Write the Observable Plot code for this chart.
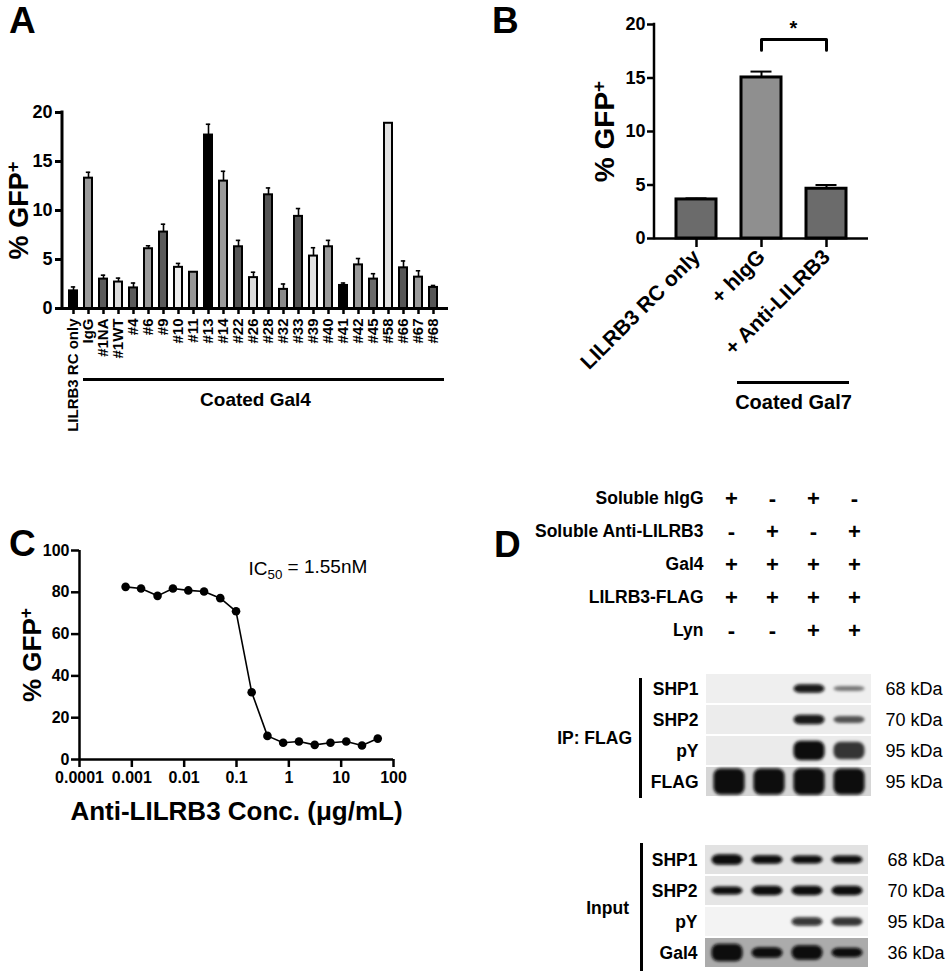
<!DOCTYPE html>
<html>
<head>
<meta charset="utf-8">
<script src="https://cdn.jsdelivr.net/npm/d3@7"></script>
<script src="https://cdn.jsdelivr.net/npm/@observablehq/plot@0.6"></script>
<style>
  body { margin: 0; background: #fff; }
  #fig { position: relative; width: 950px; height: 975px; overflow: hidden;
         font-family: "Liberation Sans", Arial, Helvetica, sans-serif; color: #000; }
  .pos { position: absolute; }
  .letter { position: absolute; font-weight: bold; font-size: 37px; line-height: normal; }
  .bracket { position: absolute; background: #000; width: 3px; }
  .blockLabel { position: absolute; font-weight: bold; font-size: 17.5px; line-height: 20px; text-align: right; white-space: nowrap; }
</style>
</head>
<body>
<div id="fig"></div>
<script>
// ---------------- DATA ----------------
// Panel A
const aCategories = ["LILRB3 RC only","IgG","#1NA","#1WT","#4","#6","#9","#10","#11","#13","#14","#22","#26","#28","#32","#33","#39","#40","#41","#42","#45","#58","#66","#67","#68"];
const aMeans = [1.8,13.3,3.0,2.7,2.1,6.1,7.8,4.2,3.7,17.7,13.0,6.3,3.15,11.6,1.95,9.4,5.35,6.3,2.35,4.45,3.0,18.9,4.15,3.2,2.15];
const aSEM   = [0.4,0.6,0.4,0.4,0.5,0.3,0.8,0.4,0,1.1,1.0,0.65,0.55,0.7,0.55,0.8,0.85,0.65,0.25,0.65,0.55,0,0.7,0.65,0.2];
const aGroupLabel = "Coated Gal4";
const aGroupMembers = aCategories.slice(1);

// Panel B
const bCategories = ["LILRB3 RC only", "+ hIgG", "+ Anti-LILRB3"];
const bMeans = [3.65, 15.05, 4.65];
const bSEM = [0.1, 0.55, 0.35];
const bGroupLabel = "Coated Gal7";
const bGroupMembers = ["+ hIgG", "+ Anti-LILRB3"];
const bComparison = {from: "+ hIgG", to: "+ Anti-LILRB3", label: "*"};

// Panel C
const cConc = [0.00076,0.0015,0.0031,0.0061,0.012,0.024,0.049,0.098,0.195,0.39,0.78,1.56,3.125,6.25,12.5,25,50];
const cGFP  = [82.6,81.8,78.3,81.8,80.9,80.4,77.2,70.9,32.2,11.3,8.0,8.6,7.0,8.0,8.6,6.7,10.0];
const cTicks = [0.0001,0.001,0.01,0.1,1,10,100];
const cXLabel = "Anti-LILRB3 Conc. (μg/mL)";
const cIC50 = "1.55nM";

// Panel D
const lanes = [1,2,3,4];
const conditions = ["Soluble hIgG","Soluble Anti-LILRB3","Gal4","LILRB3-FLAG","Lyn"];
const signs = [["+","-","+","-"],["-","+","-","+"],["+","+","+","+"],["+","+","+","+"],["-","-","+","+"]];
const ipRows = ["SHP1","SHP2","pY","FLAG"];
const ipKDa = ["68 kDa","70 kDa","95 kDa","95 kDa"];
const ipIntensity = [[0,0,0.95,0.5],[0,0,0.95,0.65],[0,0,1,0.78],[1,1,1,1]];
const ipSpread    = [[0,0,0.3,0.17],[0,0,0.33,0.24],[0,0,0.68,0.6],[0.9,0.9,0.92,0.9]];
const inRows = ["SHP1","SHP2","pY","Gal4"];
const inKDa = ["68 kDa","70 kDa","95 kDa","36 kDa"];
const inIntensity = [[1,1,1,1],[1,1,1,1],[0,0,0.82,0.78],[1,1,1,1]];
const inSpread    = [[0.36,0.3,0.28,0.28],[0.28,0.32,0.32,0.32],[0,0,0.3,0.3],[0.6,0.36,0.5,0.32]];

// ---------------- HELPERS ----------------
const FONT = '"Liberation Sans", Arial, Helvetica, sans-serif';
const fig = document.getElementById("fig");
function place(node, left, top, w, h) {
  const div = document.createElement("div");
  div.className = "pos";
  div.style.left = left + "px"; div.style.top = top + "px";
  div.style.width = w + "px"; div.style.height = h + "px";
  div.appendChild(node);
  fig.appendChild(div);
}
function addHTML(cls, html, css) {
  const d = document.createElement("div");
  d.className = cls; d.innerHTML = html;
  Object.assign(d.style, css);
  fig.appendChild(d);
}
const leftAxisLine = (sw) => (index, scales, values, dims) => {
  const l = document.createElementNS("http://www.w3.org/2000/svg", "line");
  const x = dims.marginLeft;
  l.setAttribute("x1", x); l.setAttribute("x2", x);
  l.setAttribute("y1", dims.marginTop - sw / 2);
  l.setAttribute("y2", dims.height - dims.marginBottom + sw / 2);
  l.setAttribute("stroke", "black"); l.setAttribute("stroke-width", sw);
  return l;
};
function gfpLabel(svg, size) {
  d3.select(svg).selectAll("text").each(function () {
    if (this.textContent.replace(/[↑→]/g, "").trim() === "% GFP+") {
      const t = d3.select(this);
      t.selectAll("*").remove();
      t.text("% GFP").attr("font-size", size).attr("font-weight", "bold");
      t.append("tspan").attr("dy", "-0.5em").attr("font-size", "0.68em").text("+");
    }
  });
}
const baseStyle = {fontFamily: FONT, fontWeight: "bold", background: "transparent", overflow: "visible", color: "black"};

// ---------------- PANEL A ----------------
const aBarColors = ["#000","#9a9a9a","#5a5a5a","#dcdcdc","#5a5a5a","#9a9a9a","#5a5a5a","#ececec","#969696","#000","#9a9a9a","#555","#dcdcdc","#555","#8a8a8a","#555","#e2e2e2","#9a9a9a","#000","#9a9a9a","#6a6a6a","#e2e2e2","#555","#9a9a9a","#555"];
const aData = aCategories.map((cat, i) => ({cat, mean: aMeans[i], sem: aSEM[i]}));
const aErr = aData.filter(d => d.sem > 0);
const plotA = Plot.plot({
  width: 470, height: 430, marginLeft: 62, marginRight: 22, marginTop: 112, marginBottom: 122,
  style: baseStyle,
  x: {domain: aCategories, range: [62, 444.7], paddingInner: 0.44, paddingOuter: 0.31},
  y: {domain: [0, 20]},
  color: {domain: aCategories, range: aBarColors},
  marks: [
    Plot.ruleX(aErr, {x: "cat", y1: "mean", y2: d => d.mean + d.sem, strokeWidth: 1.6}),
    Plot.barY(aData, {x: "cat", y: "mean", fill: "cat", stroke: "black", strokeWidth: 2}),
    Plot.tickY(aErr, {x: "cat", y: d => d.mean + d.sem, strokeWidth: 1.6, insetLeft: 1.8, insetRight: 1.8}),
    Plot.ruleY([0], {strokeWidth: 3}),
    leftAxisLine(3),
    Plot.axisY({ticks: [0, 5, 10, 15, 20], tickSize: 7, tickPadding: 3, fontSize: 18, strokeWidth: 3,
                label: "% GFP+", labelAnchor: "center", labelOffset: 54}),
    Plot.axisX({tickSize: 6, tickPadding: 4, tickRotate: -90, fontSize: 15, strokeWidth: 2.5, label: null}),
    Plot.ruleY([0], {x1: () => aGroupMembers[0], x2: () => aGroupMembers[aGroupMembers.length - 1],
                     dy: 71, strokeWidth: 3, insetLeft: -1, insetRight: -7}),
    Plot.text([aGroupLabel], {x: () => "#26", y: () => 0, text: d => d, dy: 91, dx: 2, fontSize: 19, lineAnchor: "middle"})
  ]
});
gfpLabel(plotA, 27);
place(plotA, 0, 0, 470, 430);

// ---------------- PANEL B ----------------
const bData = bCategories.map((cat, i) => ({cat, mean: bMeans[i], sem: bSEM[i]}));
const bBracket = [
  {x: bComparison.from, y: 17.6}, {x: bComparison.from, y: 18.6},
  {x: bComparison.to, y: 18.6}, {x: bComparison.to, y: 17.6}
];
const plotB = Plot.plot({
  width: 470, height: 430, marginLeft: 174, marginRight: 82, marginTop: 24, marginBottom: 192,
  style: baseStyle,
  x: {domain: bCategories, paddingInner: 0.39, paddingOuter: 0.34},
  y: {domain: [0, 20]},
  color: {domain: bCategories, range: ["#6b6b6b", "#8f8f8f", "#6b6b6b"]},
  marks: [
    Plot.ruleX(bData, {x: "cat", y1: "mean", y2: d => d.mean + d.sem, strokeWidth: 2}),
    Plot.barY(bData, {x: "cat", y: "mean", fill: "cat", stroke: "black", strokeWidth: 3}),
    Plot.tickY(bData, {x: "cat", y: d => d.mean + d.sem, strokeWidth: 2, insetLeft: 9.5, insetRight: 9.5}),
    Plot.ruleY([0], {strokeWidth: 2.5}),
    leftAxisLine(2.5),
    Plot.axisY({ticks: [0, 5, 10, 15, 20], tickSize: 7, tickPadding: 2, fontSize: 18, strokeWidth: 2.5,
                label: "% GFP+", labelAnchor: "center", labelOffset: 60}),
    Plot.axisX({tickSize: 9, tickPadding: 6, tickRotate: -45, fontSize: 21, strokeWidth: 2.5, label: null}),
    Plot.line(bBracket, {x: "x", y: "y", strokeWidth: 3}),
    Plot.text([bComparison], {x: "from", y: () => 20, text: "label", dx: 32, dy: 4, fontSize: 20}),
    Plot.ruleY([0], {x1: () => bGroupMembers[0], x2: () => bGroupMembers[bGroupMembers.length - 1],
                     dy: 144, strokeWidth: 3, insetLeft: -4, insetRight: -3}),
    Plot.text([bGroupLabel], {x: () => bGroupMembers[0], y: () => 0, text: d => d, dx: 32, dy: 164, fontSize: 20, lineAnchor: "middle"})
  ]
});
gfpLabel(plotB, 28);
place(plotB, 480, 0, 470, 430);

// ---------------- PANEL C ----------------
const cData = cConc.map((conc, i) => ({conc, gfp: cGFP[i]}));
const icText = "IC50 = " + cIC50;
const plotC = Plot.plot({
  width: 480, height: 320, marginLeft: 79, marginRight: 87, marginTop: 30, marginBottom: 81,
  style: baseStyle,
  x: {type: "log", domain: [0.0001, 100]},
  y: {domain: [0, 100]},
  marks: [
    Plot.ruleY([0], {strokeWidth: 2.5}),
    Plot.ruleX([0.0001], {strokeWidth: 2.5}),
    Plot.axisY({ticks: [0, 20, 40, 60, 80, 100], tickSize: 8, tickPadding: 2, fontSize: 16, strokeWidth: 2.5,
                label: "% GFP+", labelAnchor: "center", labelOffset: 57}),
    Plot.axisX({ticks: cTicks, tickFormat: d => String(d), tickSize: 8, tickPadding: 4, fontSize: 16, strokeWidth: 2.5,
                label: cXLabel, labelAnchor: "center", labelOffset: 60}),
    Plot.line(cData, {x: "conc", y: "gfp", strokeWidth: 1.6}),
    Plot.dot(cData, {x: "conc", y: "gfp", r: 4.3, fill: "black"}),
    Plot.text([icText], {frameAnchor: "top-left", text: d => d, dx: 169, dy: 18, textAnchor: "start",
                         lineAnchor: "middle", fontSize: 19, fontWeight: "normal"})
  ]
});
gfpLabel(plotC, 26);
d3.select(plotC).selectAll("text").each(function () {
  const t = d3.select(this);
  if (this.textContent === icText) {
    t.text("IC");
    t.append("tspan").attr("dy", "0.35em").attr("font-size", "0.7em").text("50");
    t.append("tspan").attr("dy", "-0.35em").text(" = " + cIC50);
  } else if (this.textContent.indexOf(cXLabel) >= 0) {
    t.selectAll("*").remove();
    t.text(cXLabel).attr("font-size", 26).attr("font-weight", "bold");
  }
});
place(plotC, 0, 520, 480, 320);

// ---------------- PANEL D ----------------
const tableData = conditions.flatMap((condition, r) => lanes.map((lane, j) => ({condition, lane, sign: signs[r][j]})));
const plotTable = Plot.plot({
  width: 440, height: 145, marginLeft: 200, marginRight: 75, marginTop: 7.75, marginBottom: 4.75,
  style: baseStyle,
  x: {domain: lanes, paddingInner: 0.15, paddingOuter: 0.1, axis: null},
  y: {domain: conditions, padding: 0},
  marks: [
    Plot.text(tableData, {x: "lane", y: "condition", text: "sign", fontSize: 22, lineAnchor: "middle"}),
    Plot.axisY({tickSize: 0, tickPadding: 7, fontSize: 17.5, label: null})
  ]
});
place(plotTable, 510, 490, 440, 145);

function blot(rows, kda, intensity, spread, bgColors, opts) {
  const strips = rows.map((row, r) => ({row, kda: kda[r], bg: bgColors[r]}));
  const bands = rows.flatMap((row, r) => lanes.map((lane, j) => ({row, lane, intensity: intensity[r][j], spread: spread[r][j]})))
                    .filter(d => d.intensity > 0);
  const svg = Plot.plot({
    width: opts.width, height: opts.height,
    marginLeft: opts.marginLeft, marginRight: opts.marginRight, marginTop: opts.marginTop, marginBottom: opts.marginBottom,
    style: baseStyle,
    x: {domain: lanes, paddingInner: 0.15, paddingOuter: 0.1, axis: null},
    y: {domain: [-0.5, 0.5], axis: null},
    fy: {domain: rows, padding: 0.07},
    marks: [
      Plot.rect(strips, {fy: "row", fill: "bg"}),
      Plot.barY(bands, {fy: "row", x: "lane", y1: d => -d.spread / 2, y2: d => d.spread / 2,
                        fill: "#080808", fillOpacity: "intensity", rx: 7, insetLeft: 1.5, insetRight: 1.5}),
      Plot.axisFy({anchor: "left", tickSize: 0, tickPadding: 8, fontSize: 17.5, label: null}),
      Plot.text(strips, {fy: "row", text: "kda", frameAnchor: "right", textAnchor: "start", dx: opts.kdaDx,
                         fontSize: 18, fontWeight: "normal", lineAnchor: "middle"})
    ]
  });
  const root = d3.select(svg);
  const defs = root.insert("defs", ":first-child");
  defs.append("filter").attr("id", opts.id)
      .attr("x", "-10%").attr("y", "-30%").attr("width", "120%").attr("height", "160%")
      .append("feGaussianBlur").attr("stdDeviation", 1.7);
  root.selectAll('g[aria-label="bar"]').attr("filter", `url(#${opts.id})`);
  return svg;
}
const plotIP = blot(ipRows, ipKDa, ipIntensity, ipSpread, ["#efefef", "#ececec", "#ebebeb", "#d6d6d6"],
  {id: "blurIP", width: 390, height: 150, marginLeft: 146, marginRight: 79, marginTop: 12, marginBottom: 13, kdaDx: 14});
place(plotIP, 560, 660, 390, 150);
const plotIn = blot(inRows, inKDa, inIntensity, inSpread, ["#e2e2e2", "#e5e5e5", "#f3f3f3", "#ababab"],
  {id: "blurIn", width: 390, height: 143, marginLeft: 145, marginRight: 82, marginTop: 11, marginBottom: 7, kdaDx: 19});
place(plotIn, 560, 832, 390, 143);

addHTML("bracket", "", {left: "639px", top: "678px", height: "120px"});
addHTML("bracket", "", {left: "640px", top: "843px", height: "128px"});
addHTML("blockLabel", "IP: FLAG", {right: "318px", top: "728px"});
addHTML("blockLabel", "Input", {right: "321px", top: "898px"});

// Panel letters
addHTML("letter", "A", {left: "9px", top: "0px"});
addHTML("letter", "B", {left: "492px", top: "0px"});
addHTML("letter", "C", {left: "9px", top: "523px"});
addHTML("letter", "D", {left: "494px", top: "524px"});
</script>
</body>
</html>
